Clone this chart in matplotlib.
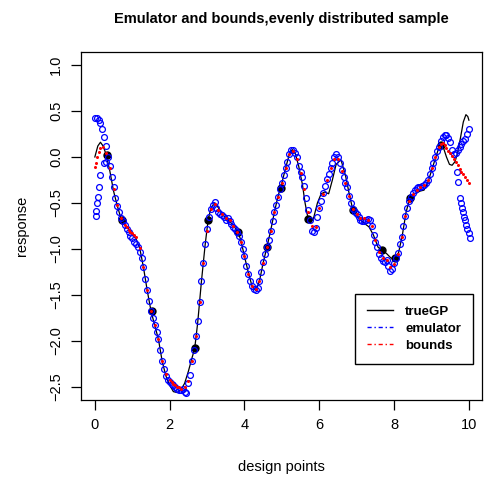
import numpy as np
import matplotlib.pyplot as plt
from matplotlib.lines import Line2D

plt.rcParams['font.family'] = ['Liberation Sans', 'DejaVu Sans']

# true GP curve
true_x = [0.0, 0.08, 0.15, 0.22, 0.3, 0.4, 0.5, 0.6, 0.7, 0.8, 0.9, 1.0, 1.1, 1.2, 1.3, 1.4, 1.5,
          1.6, 1.7, 1.8, 1.9, 2.0, 2.1, 2.2, 2.3, 2.4, 2.5, 2.6, 2.67, 2.75, 2.85, 2.95, 3.03,
          3.1, 3.2, 3.3, 3.4, 3.5, 3.6, 3.7, 3.83, 3.9, 4.0, 4.1, 4.2, 4.3, 4.4, 4.5, 4.6, 4.7,
          4.8, 4.9, 4.97, 5.1, 5.2, 5.28, 5.35, 5.45, 5.55, 5.62, 5.7, 5.78, 5.85, 5.95, 6.05,
          6.15, 6.25, 6.35, 6.45, 6.58, 6.7, 6.8, 6.9, 7.0, 7.1, 7.2, 7.33, 7.45, 7.57, 7.67,
          7.8, 7.92, 8.02, 8.12, 8.22, 8.32, 8.42, 8.55, 8.7, 8.8, 8.9, 9.0, 9.1, 9.18, 9.25,
          9.32, 9.4, 9.48, 9.55, 9.63, 9.7, 9.78, 9.85, 9.92, 9.97, 10.0]
true_y = [0.0, 0.12, 0.16, 0.12, 0.03, -0.15, -0.37, -0.53, -0.67, -0.74, -0.78, -0.83, -0.89,
          -0.99, -1.2, -1.45, -1.67, -1.83, -1.98, -2.22, -2.38, -2.48, -2.55, -2.56, -2.53,
          -2.46, -2.33, -2.18, -2.08, -1.8, -1.35, -0.95, -0.68, -0.56, -0.5, -0.55, -0.62,
          -0.66, -0.7, -0.74, -0.82, -0.9, -1.08, -1.25, -1.4, -1.45, -1.35, -1.15, -0.98,
          -0.8, -0.6, -0.42, -0.33, -0.12, 0.03, 0.08, 0.05, -0.1, -0.3, -0.5, -0.67, -0.71,
          -0.66, -0.5, -0.4, -0.38, -0.4, -0.25, -0.08, -0.03, -0.2, -0.4, -0.58, -0.63, -0.68,
          -0.72, -0.76, -0.85, -0.98, -1.01, -1.05, -1.1, -1.1, -1.04, -0.85, -0.6, -0.45,
          -0.4, -0.37, -0.36, -0.28, -0.15, -0.02, 0.08, 0.13, 0.1, 0.0, -0.08, -0.09, -0.05,
          0.05, 0.22, 0.38, 0.46, 0.44, 0.4]

# design points
design_x = [0.33, 0.72, 1.52, 2.67, 3.02, 3.82, 4.6, 4.97, 5.7, 6.9, 7.67, 8.02, 8.42, 9.25]
design_y = [0.02, -0.68, -1.67, -2.08, -0.68, -0.82, -0.98, -0.34, -0.67, -0.58, -1.01, -1.1,
            -0.45, 0.13]

# emulator predictions
emu_x = [0.0, 0.05, 0.1, 0.15, 0.2, 0.25, 0.3, 0.35, 0.4, 0.45, 0.5, 0.55, 0.6, 0.65, 0.7,
         0.75, 0.8, 0.85, 0.9, 0.95, 1.0, 1.05, 1.1, 1.15, 1.2, 1.25, 1.3, 1.35, 1.4, 1.45,
         1.5, 1.55, 1.6, 1.65, 1.7, 1.75, 1.8, 1.85, 1.9, 1.95, 2.0, 2.05, 2.1, 2.15, 2.2,
         2.25, 2.3, 2.35, 2.4, 2.45, 2.5, 2.55, 2.6, 2.65, 2.7, 2.75, 2.8, 2.85, 2.9, 2.95,
         3.0, 3.05, 3.1, 3.15, 3.2, 3.25, 3.3, 3.35, 3.4, 3.45, 3.5, 3.55, 3.6, 3.65, 3.7,
         3.75, 3.8, 3.85, 3.9, 3.95, 4.0, 4.05, 4.1, 4.15, 4.2, 4.25, 4.3, 4.35, 4.4, 4.45,
         4.5, 4.55, 4.6, 4.65, 4.7, 4.75, 4.8, 4.85, 4.9, 4.95, 5.0, 5.05, 5.1, 5.15, 5.2,
         5.25, 5.3, 5.35, 5.4, 5.45, 5.5, 5.55, 5.6, 5.65, 5.7, 5.75, 5.8, 5.85, 5.9, 5.95,
         6.0, 6.05, 6.1, 6.15, 6.2, 6.25, 6.3, 6.35, 6.4, 6.45, 6.5, 6.55, 6.6, 6.65, 6.7,
         6.75, 6.8, 6.85, 6.9, 6.95, 7.0, 7.05, 7.1, 7.15, 7.2, 7.25, 7.3, 7.35, 7.4, 7.45,
         7.5, 7.55, 7.6, 7.65, 7.7, 7.75, 7.8, 7.85, 7.9, 7.95, 8.0, 8.05, 8.1, 8.15, 8.2,
         8.25, 8.3, 8.35, 8.4, 8.45, 8.5, 8.55, 8.6, 8.65, 8.7, 8.75, 8.8, 8.85, 8.9, 8.95,
         9.0, 9.05, 9.1, 9.15, 9.2, 9.25, 9.3, 9.35, 9.4, 9.45, 9.5, 9.55, 9.6, 9.65, 9.7,
         9.75, 9.8, 9.85, 9.9, 9.95, 10.0,
         # second branches near the ends
         0.02, 0.04, 0.06, 0.09, 0.11, 0.15, 0.24, 0.3,
         9.67, 9.7, 9.76, 9.79, 9.82, 9.85, 9.87, 9.9, 9.93, 9.96, 9.99, 10.02]
emu_y = [0.42, 0.42, 0.4, 0.37, 0.3, 0.22, 0.12, 0.0, -0.1, -0.22, -0.33, -0.45, -0.53, -0.6,
         -0.66, -0.7, -0.74, -0.78, -0.82, -0.86, -0.88, -0.92, -0.95, -0.98, -1.03, -1.1,
         -1.2, -1.33, -1.45, -1.57, -1.67, -1.75, -1.83, -1.9, -1.98, -2.1, -2.22, -2.3,
         -2.38, -2.42, -2.45, -2.47, -2.48, -2.5, -2.52, -2.53, -2.53, -2.52, -2.55, -2.57,
         -2.46, -2.37, -2.22, -2.1, -1.95, -1.78, -1.58, -1.35, -1.15, -0.95, -0.78, -0.65,
         -0.57, -0.52, -0.49, -0.55, -0.6, -0.62, -0.63, -0.65, -0.68, -0.66, -0.7, -0.73,
         -0.76, -0.78, -0.82, -0.86, -0.92, -1.0, -1.08, -1.18, -1.27, -1.35, -1.4, -1.44,
         -1.45, -1.42, -1.35, -1.25, -1.14, -1.05, -0.98, -0.9, -0.8, -0.7, -0.6, -0.52,
         -0.43, -0.35, -0.28, -0.2, -0.12, -0.05, 0.03, 0.08, 0.08, 0.04, 0.0, -0.1, -0.16,
         -0.22, -0.32, -0.45, -0.58, -0.68, -0.8, -0.82, -0.77, -0.65, -0.55, -0.48, -0.39,
         -0.32, -0.24, -0.18, -0.12, -0.06, 0.0, 0.03, 0.0, -0.06, -0.14, -0.22, -0.28,
         -0.33, -0.42, -0.5, -0.56, -0.6, -0.62, -0.65, -0.68, -0.7, -0.7, -0.68, -0.67,
         -0.68, -0.75, -0.85, -0.92, -0.98, -1.05, -1.1, -1.13, -1.14, -1.12, -1.18, -1.24,
         -1.22, -1.15, -1.1, -1.04, -0.95, -0.87, -0.75, -0.64, -0.55, -0.48, -0.43, -0.39,
         -0.36, -0.34, -0.33, -0.33, -0.32, -0.3, -0.28, -0.25, -0.18, -0.12, -0.07, 0.0,
         0.06, 0.11, 0.17, 0.22, 0.24, 0.24, 0.21, 0.16, 0.08, 0.03, 0.04, 0.08, 0.11, 0.14,
         0.17, 0.2, 0.25, 0.3,
         -0.64, -0.59, -0.5, -0.43, -0.33, -0.2, -0.07, -0.05,
         -0.16, -0.27, -0.45, -0.5, -0.55, -0.6, -0.65, -0.69, -0.74, -0.78, -0.83, -0.88]

# bounds
bnd_x = [0.0, 0.03, 0.06, 0.1, 0.15, 0.22, 0.3, 0.4, 0.5, 0.6, 0.7, 0.8, 0.85, 0.9, 0.95, 1.0,
         1.05, 1.1, 1.2, 1.3, 1.4, 1.5, 1.6, 1.7, 1.8, 1.9, 2.0, 2.05, 2.1, 2.15, 2.2, 2.25,
         2.3, 2.4, 2.5, 2.6, 2.7, 2.8, 2.9, 3.0, 3.1, 3.2, 3.3, 3.4, 3.5, 3.6, 3.7, 3.8, 3.9,
         4.0, 4.1, 4.2, 4.3, 4.4, 4.5, 4.6, 4.7, 4.8, 4.9, 5.0, 5.1, 5.2, 5.3, 5.4, 5.5, 5.6,
         5.7, 5.8, 5.9, 6.0, 6.1, 6.2, 6.3, 6.4, 6.5, 6.6, 6.7, 6.8, 6.9, 7.0, 7.1, 7.2, 7.3,
         7.4, 7.5, 7.6, 7.7, 7.8, 7.9, 8.0, 8.1, 8.2, 8.3, 8.4, 8.5, 8.6, 8.7, 8.8, 8.9, 9.0,
         9.1, 9.2, 9.25, 9.3, 9.35, 9.4, 9.45, 9.5, 9.55, 9.6, 9.65, 9.7, 9.75, 9.8, 9.85,
         9.9, 9.95, 10.0]
bnd_y = [-0.11, -0.07, 0.0, 0.05, 0.1, 0.11, 0.04, -0.12, -0.35, -0.52, -0.66, -0.74, -0.76,
         -0.79, -0.81, -0.83, -0.85, -0.87, -0.99, -1.2, -1.45, -1.67, -1.83, -1.98, -2.22,
         -2.36, -2.42, -2.45, -2.47, -2.48, -2.5, -2.5, -2.52, -2.5, -2.43, -2.22, -1.95,
         -1.58, -1.15, -0.8, -0.57, -0.51, -0.58, -0.62, -0.66, -0.69, -0.75, -0.82, -0.92,
         -1.08, -1.27, -1.4, -1.44, -1.35, -1.15, -0.98, -0.8, -0.6, -0.43, -0.28, -0.12,
         0.03, 0.06, -0.02, -0.17, -0.35, -0.6, -0.75, -0.76, -0.55, -0.4, -0.25, -0.12,
         -0.02, -0.02, -0.15, -0.28, -0.42, -0.56, -0.62, -0.66, -0.66, -0.68, -0.75, -0.9,
         -1.03, -1.1, -1.12, -1.2, -1.16, -1.05, -0.87, -0.64, -0.48, -0.4, -0.36, -0.33,
         -0.3, -0.25, -0.12, 0.0, 0.11, 0.14, 0.15, 0.13, 0.1, 0.07, 0.04, 0.01, -0.02,
         -0.05, -0.09, -0.13, -0.16, -0.19, -0.22, -0.25, -0.28]

fig = plt.figure(figsize=(4.85, 4.78), dpi=100)
ax = fig.add_axes([81 / 485, 78 / 478, 401 / 485, 348 / 478])

ax.plot(true_x, true_y, color='black', lw=0.9, zorder=2)
ax.plot(design_x, design_y, 'o', color='black', ms=5.0, zorder=3)
ax.plot(emu_x, emu_y, 'o', mfc='none', mec='blue', ms=4.2, mew=0.9, zorder=4)
ax.plot(bnd_x, bnd_y, 'o', color='red', ms=2.2, mew=0, zorder=5)

ax.set_xlim(-0.37, 10.35)
ax.set_ylim(-2.641, 1.141)
ax.set_xticks([0, 2, 4, 6, 8, 10])
ax.set_yticks([-2.5, -2.0, -1.5, -1.0, -0.5, 0.0, 0.5, 1.0])
ax.set_yticklabels(['\u22122.5', '\u22122.0', '\u22121.5', '\u22121.0', '\u22120.5',
                    '0.0', '0.5', '1.0'], rotation=90, va='center')
ax.tick_params(direction='out', length=7, width=0.9, labelsize=10.5, pad=6)
for s in ax.spines.values():
    s.set_linewidth(0.9)

ax.set_xlabel('design points', fontsize=10.5, labelpad=20)
ax.set_ylabel('response', fontsize=10.5, labelpad=14)
ax.set_title('Emulator and bounds,evenly distributed sample', fontsize=10.5,
             fontweight='bold', pad=21)

handles = [Line2D([], [], color='black', lw=1),
           Line2D([], [], color='blue', lw=1, ls=(0, (3, 2, 1, 2))),
           Line2D([], [], color='red', lw=1, ls=(0, (3, 2, 1, 2)))]
leg = ax.legend(handles, ['trueGP', 'emulator', 'bounds'], loc='upper left',
                bbox_to_anchor=(355 / 485, 1 - 294 / 478), bbox_transform=fig.transFigure,
                borderaxespad=0, fancybox=False, framealpha=1, edgecolor='black',
                prop={'weight': 'bold', 'size': 9.5}, handlelength=2.0,
                handletextpad=0.9, borderpad=0.9, labelspacing=0.35)
leg.get_frame().set_linewidth(1.0)

fig.savefig('out.png', dpi=100)
